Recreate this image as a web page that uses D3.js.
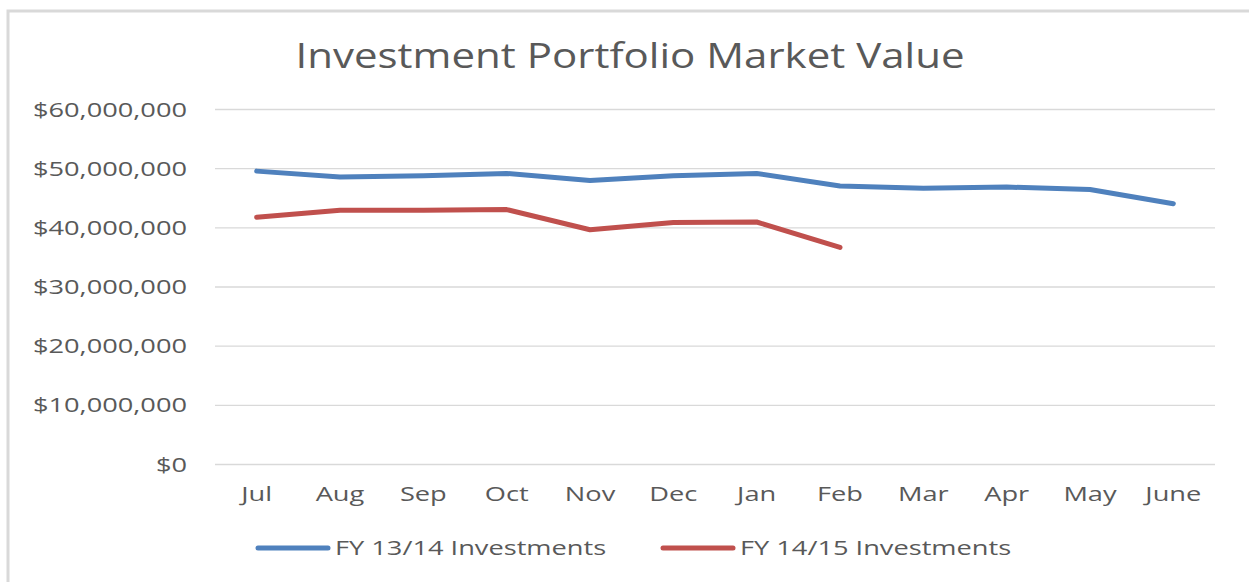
<!DOCTYPE html>
<html>
<head>
<meta charset="utf-8">
<script src="https://cdn.jsdelivr.net/npm/d3@7"></script>
<style>
  body { margin: 0; background: #fff; }
  svg text { font-family: "Open Sans", sans-serif; fill: #595959; }
</style>
</head>
<body>
<svg id="chart" width="1249" height="582"></svg>
<script>
var months = ["Jul", "Aug", "Sep", "Oct", "Nov", "Dec", "Jan", "Feb", "Mar", "Apr", "May", "June"];
var fy1314 = [49.5, 48.5, 48.7, 49.1, 47.9, 48.7, 49.1, 47.0, 46.6, 46.8, 46.4, 44.0];
var fy1415 = [41.7, 42.9, 42.9, 43.0, 39.6, 40.8, 40.9, 36.6];
var yTicks = [0, 10, 20, 30, 40, 50, 60];
var seriesNames = ["FY 13/14 Investments", "FY 14/15 Investments"];
var colors = ["#4f81bd", "#c0504d"];

var svg = d3.select("#chart");
var plot = {left: 215, right: 1215, top: 109, bottom: 464};
var stretch = 1.36; // the reference text is drawn wide

// widen text horizontally to match the reference
function widen(sel) {
    sel.each(function() {
        var w = this.getComputedTextLength();
        d3.select(this)
            .attr("textLength", w * stretch)
            .attr("lengthAdjust", "spacingAndGlyphs");
    });
}

// outer frame (only top and left edges visible)
svg.append("rect")
    .attr("x", 8).attr("y", 11)
    .attr("width", 1300).attr("height", 700)
    .attr("fill", "none")
    .attr("stroke", "#d9d9d9")
    .attr("stroke-width", 3);

var x = d3.scaleBand()
    .domain(months)
    .range([plot.left, plot.right]);

var y = d3.scaleLinear()
    .domain([0, 60])
    .range([plot.bottom, plot.top]);

// title
svg.append("text")
    .attr("x", 630).attr("y", 68)
    .attr("text-anchor", "middle")
    .attr("font-size", 35)
    .attr("textLength", 669)
    .attr("lengthAdjust", "spacingAndGlyphs")
    .text("Investment Portfolio Market Value");

// grid
var yAxis = d3.axisLeft(y)
    .tickValues(yTicks)
    .tickSize(-(plot.right - plot.left))
    .tickPadding(28)
    .tickFormat(function(d) { return d === 0 ? "$0" : "$" + d3.format(",")(d * 1000000); });

var gy = svg.append("g")
    .attr("transform", "translate(" + plot.left + ",0)")
    .call(yAxis);
gy.select(".domain").remove();
gy.selectAll("line").attr("stroke", "#d9d9d9").attr("stroke-width", 1.3);
gy.selectAll("text")
    .attr("font-size", 20)
    .attr("dy", "0.35em")
    .attr("fill", "#595959")
    .call(widen);

// x axis labels
var xAxis = d3.axisBottom(x).tickSize(0).tickPadding(23);
var gx = svg.append("g")
    .attr("transform", "translate(0," + plot.bottom + ")")
    .call(xAxis);
gx.select(".domain").remove();
gx.selectAll("text").attr("font-size", 20).attr("fill", "#595959").call(widen);

// lines
var line = d3.line()
    .x(function(d, i) { return x(months[i]) + x.bandwidth() / 2; })
    .y(function(d) { return y(d); });

[fy1314, fy1415].forEach(function(s, k) {
    svg.append("path")
        .datum(s)
        .attr("d", line)
        .attr("fill", "none")
        .attr("stroke", colors[k])
        .attr("stroke-width", 5)
        .attr("stroke-linecap", "round")
        .attr("stroke-linejoin", "round");
});

// legend
var legendX = [258, 663];
seriesNames.forEach(function(name, k) {
    var g = svg.append("g").attr("transform", "translate(" + legendX[k] + ",548)");
    g.append("line")
        .attr("x1", 0).attr("x2", 70)
        .attr("stroke", colors[k])
        .attr("stroke-width", 5)
        .attr("stroke-linecap", "round");
    g.append("text")
        .attr("x", 77).attr("dy", "0.35em")
        .attr("font-size", 20)
        .text(name)
        .call(widen);
});
</script>
</body>
</html>
